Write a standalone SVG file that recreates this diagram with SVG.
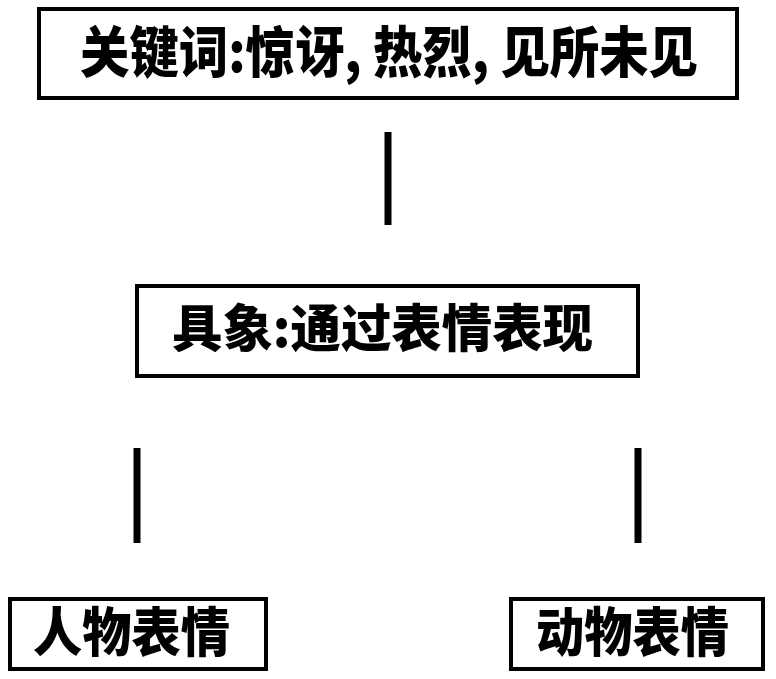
<svg xmlns="http://www.w3.org/2000/svg" width="776" height="679" viewBox="0 0 776 679">
<style>
.box{fill:#fff;stroke:#000;stroke-width:4}
.lbl{font-family:"Noto Sans CJK SC","Noto Sans",sans-serif;font-weight:900;fill:#000;text-anchor:middle}
.conn{stroke:#000;stroke-width:7;fill:none}
</style>
<rect width="776" height="679" fill="#fff"/>
<g id="connectors">
<line class="conn" x1="388" y1="132" x2="388" y2="225"/>
<line class="conn" x1="137" y1="448" x2="137" y2="543"/>
<line class="conn" x1="638" y1="448" x2="638" y2="543"/>
</g>
<g id="node-keywords">
<rect class="box" x="39" y="9" width="698" height="89"/>
<text class="lbl" x="389" y="72" font-size="55" textLength="618" lengthAdjust="spacingAndGlyphs">关键词:惊讶, 热烈, 见所未见</text>
</g>
<g id="node-concrete">
<rect class="box" x="137" y="286" width="501" height="90"/>
<text class="lbl" x="382.5" y="347" font-size="51" textLength="421" lengthAdjust="spacingAndGlyphs">具象:通过表情表现</text>
</g>
<g id="node-person">
<rect class="box" x="10" y="599" width="256" height="70"/>
<text class="lbl" x="131.5" y="652" font-size="53" textLength="197" lengthAdjust="spacingAndGlyphs">人物表情</text>
</g>
<g id="node-animal">
<rect class="box" x="511" y="599" width="252" height="70"/>
<text class="lbl" x="632.5" y="652" font-size="53" textLength="193" lengthAdjust="spacingAndGlyphs">动物表情</text>
</g>
</svg>
